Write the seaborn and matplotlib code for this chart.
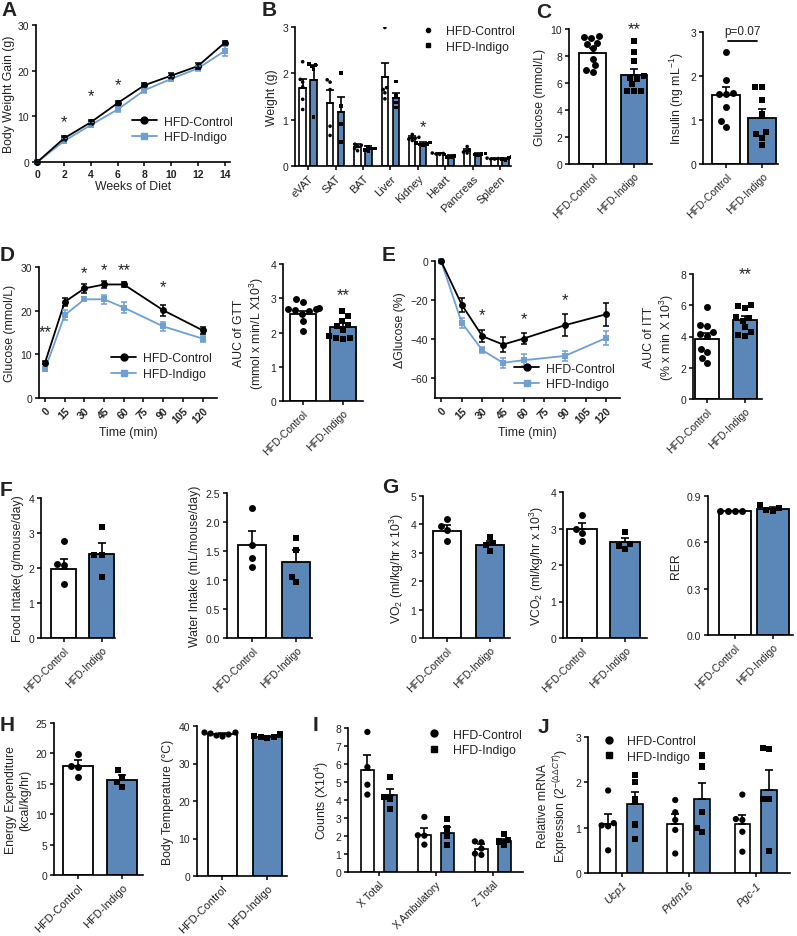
import numpy as np
import pandas as pd
import matplotlib
matplotlib.use("Agg")
import matplotlib.pyplot as plt
from matplotlib.lines import Line2D
import seaborn as sns
import warnings
warnings.filterwarnings("ignore")

CTRL, IND = "HFD-Control", "HFD-Indigo"
GROUPS = [CTRL, IND]

# ---------------- data ----------------
# A body weight gain
A_weeks = [0, 2, 4, 6, 8, 10, 12, 14]
A_ctrl = [0, 5.2, 8.7, 12.9, 16.8, 18.9, 21.0, 26.1]
A_ctrl_sem = [0.2, 0.4, 0.4, 0.4, 0.4, 0.6, 0.6, 0.5]
A_ind = [0, 4.6, 8.1, 11.5, 15.7, 18.2, 20.5, 24.3]
A_ind_sem = [0.2, 0.4, 0.4, 0.5, 0.5, 0.5, 0.5, 1.0]
A_star_x = [2, 4, 6]
A_star_y = [8.8, 14.6, 17.0]

# B organ weights
B_organs = ["eVAT", "SAT", "BAT", "Liver", "Kidney", "Heart", "Pancreas", "Spleen"]
B_ctrl_mean = [1.68, 1.35, 0.41, 1.93, 0.60, 0.27, 0.32, 0.16]
B_ctrl_sem = [0.20, 0.30, 0.06, 0.30, 0.05, 0.02, 0.04, 0.01]
B_ind_mean = [1.86, 1.17, 0.37, 1.47, 0.48, 0.21, 0.25, 0.15]
B_ind_sem = [0.33, 0.33, 0.06, 0.11, 0.04, 0.03, 0.02, 0.02]
B_ctrl_pts = [[2.25, 1.87, 1.81, 1.71, 1.44, 1.22], [1.86, 1.81, 1.65, 0.86, 0.66],
              [0.45, 0.47, 0.42, 0.33, 0.38], [2.99, 1.69, 1.58, 1.45, 1.65],
              [0.68, 0.62, 0.58, 0.55, 0.60], [0.26, 0.28, 0.25, 0.27],
              [0.42, 0.35, 0.30, 0.28], [0.16, 0.15, 0.17, 0.15]]
B_ind_pts = [[2.20, 2.15, 2.18, 2.08, 1.06], [2.01, 1.29, 0.90, 0.52],
             [0.41, 0.38, 0.35, 0.33, 0.38], [1.82, 1.51, 1.37, 1.26],
             [0.50, 0.47, 0.46, 0.45, 0.51], [0.25, 0.22, 0.18, 0.20],
             [0.27, 0.25, 0.23, 0.26], [0.19, 0.15, 0.12, 0.17]]
B_star_y = 0.85

# C fasting glucose / insulin
C_glu_mean = [8.2, 6.6]
C_glu_sem = [0.37, 0.44]
C_glu_ctrl = [9.5, 9.4, 9.3, 9.0, 8.9, 8.6, 7.8, 7.3, 7.0, 6.8]
C_glu_ind = [9.1, 8.3, 7.6, 6.5, 6.4, 6.3, 5.9, 5.4, 5.4, 5.4]
C_ins_mean = [1.57, 1.05]
C_ins_sem = [0.19, 0.20]
C_ins_ctrl = [2.54, 1.90, 1.62, 1.60, 1.58, 1.30, 0.97, 0.85]
C_ins_ind = [1.74, 1.74, 1.46, 1.13, 0.73, 0.68, 0.60, 0.44]

# D GTT
D_time = [0, 15, 30, 45, 60, 90, 120]
D_ctrl = [8.1, 22.0, 25.1, 26.0, 26.0, 20.1, 15.5]
D_ctrl_sem = [0.3, 1.0, 1.0, 0.8, 0.6, 1.3, 0.8]
D_ind = [6.6, 19.0, 22.6, 22.6, 20.7, 16.4, 13.6]
D_ind_sem = [0.3, 1.2, 0.4, 1.0, 1.3, 1.0, 0.8]
D_star_x = [0, 30, 45, 60, 90]
D_star_y = [15.3, 28.6, 29.5, 29.3, 25.6]
D_star_txt = ["**", "*", "*", "**", "*"]
D_auc_mean = [2.55, 2.17]
D_auc_sem = [0.09, 0.10]
D_auc_ctrl = [2.97, 2.90, 2.72, 2.70, 2.68, 2.65, 2.62, 2.55, 2.35, 2.03]
D_auc_ind = [2.63, 2.49, 2.35, 2.22, 2.20, 2.07, 1.90, 1.85, 1.83, 1.80]

# E ITT
E_time = [0, 15, 30, 45, 60, 90, 120]
E_ctrl = [0, -22.3, -38.4, -42.7, -39.6, -32.8, -27.2]
E_ctrl_sem = [0, 3.6, 3.0, 4.0, 3.0, 5.5, 5.8]
E_ind = [0, -31.5, -45.6, -52.0, -50.7, -48.5, -39.3]
E_ind_sem = [0, 2.5, 1.5, 2.5, 3.0, 2.5, 3.5]
E_star_x = [30, 60, 90]
E_star_y = [-27.5, -29.2, -19.7]
E_auc_mean = [3.84, 5.07]
E_auc_sem = [0.40, 0.26]
E_auc_ctrl = [5.86, 4.73, 4.65, 4.26, 4.16, 4.05, 3.20, 2.98, 2.60, 2.30]
E_auc_ind = [6.00, 5.97, 5.80, 5.22, 5.16, 5.00, 4.58, 4.26, 4.10, 4.05]

# F intake
F_food_mean = [1.98, 2.41]
F_food_sem = [0.28, 0.31]
F_food_ctrl = [2.76, 2.12, 2.09, 1.55]
F_food_ind = [3.17, 2.38, 2.36, 1.74]
F_water_mean = [1.60, 1.31]
F_water_sem = [0.24, 0.20]
F_water_ctrl = [2.24, 1.60, 1.38, 1.22]
F_water_ind = [1.72, 1.51, 1.06, 0.96]

# G metabolic cages
G_vo2_mean = [3.77, 3.27]
G_vo2_sem = [0.21, 0.15]
G_vo2_ctrl = [4.20, 3.95, 3.80, 3.40]
G_vo2_ind = [3.57, 3.34, 3.27, 3.07]
G_vco2_mean = [3.00, 2.62]
G_vco2_sem = [0.14, 0.13]
G_vco2_ctrl = [3.36, 3.00, 2.89, 2.66]
G_vco2_ind = [2.90, 2.57, 2.52, 2.43]
G_rer_mean = [0.803, 0.818]
G_rer_sem = [0.003, 0.010]
G_rer_ctrl = [0.80, 0.80, 0.80, 0.80]
G_rer_ind = [0.84, 0.82, 0.81, 0.80]

# H energy / temperature
H_ee_mean = [17.9, 15.6]
H_ee_sem = [1.0, 0.8]
H_ee_ctrl = [19.9, 18.0, 17.7, 16.2]
H_ee_ind = [17.2, 16.2, 15.3, 14.5]
H_bt_mean = [37.9, 37.2]
H_bt_sem = [0.2, 0.15]
H_bt_ctrl = [38.5, 38.3, 38.1, 37.8, 37.5, 37.3]
H_bt_ind = [37.8, 37.3, 37.2, 37.0, 36.9]

# I activity
I_cats = ["X Total", "X Ambulatory", "Z Total"]
I_ctrl_mean = [5.69, 2.07, 1.26]
I_ctrl_sem = [0.79, 0.39, 0.28]
I_ind_mean = [4.26, 2.19, 1.70]
I_ind_sem = [0.37, 0.31, 0.12]
I_ctrl_pts = [[7.78, 5.83, 4.85, 4.30], [3.06, 2.04, 2.02, 1.52], [1.70, 1.65, 1.30, 1.02, 0.95]]
I_ind_pts = [[5.26, 4.17, 4.07, 3.52], [2.96, 2.41, 2.00, 1.48], [2.10, 1.76, 1.70, 1.48]]

# J gene expression
J_genes = ["Ucp1", "Prdm16", "Pgc-1"]
J_ctrl_mean = [1.08, 1.08, 1.08]
J_ctrl_sem = [0.22, 0.22, 0.21]
J_ind_mean = [1.52, 1.63, 1.84]
J_ind_sem = [0.27, 0.35, 0.43]
J_ctrl_pts = [[1.82, 1.10, 1.05, 1.03, 0.50], [1.61, 1.34, 1.17, 0.95, 0.43], [1.73, 1.19, 1.17, 0.91, 0.47]]
J_ind_pts = [[2.16, 2.00, 1.62, 1.07, 0.75], [2.59, 2.35, 1.34, 1.00, 0.91], [2.76, 2.73, 1.64, 1.64, 0.49]]

# ---------------- style ----------------
BLUE = "#4B86C6"
LBLUE = "#6E9FD5"
BAR_PAL = {CTRL: "white", IND: BLUE}
LINE_PAL = {CTRL: "black", IND: LBLUE}
PT_PAL = {CTRL: "black", IND: "black"}

sns.set_theme(style="ticks")
plt.rcParams["font.family"] = ["Liberation Sans", "DejaVu Sans"]
plt.rcParams.update({
    "axes.linewidth": 1.2,
    "axes.edgecolor": "black",
    "xtick.major.width": 1.1,
    "ytick.major.width": 1.1,
    "xtick.major.size": 3,
    "ytick.major.size": 3,
    "xtick.major.pad": 2,
    "ytick.major.pad": 2,
    "xtick.labelsize": 7.5,
    "ytick.labelsize": 7.5,
    "axes.labelsize": 8.8,
    "axes.labelpad": 3,
    "text.color": "#222222",
    "axes.labelcolor": "#222222",
    "xtick.color": "black",
    "ytick.color": "black",
    "xtick.labelcolor": "#222222",
    "ytick.labelcolor": "#222222",
    "mathtext.fontset": "custom",
    "mathtext.rm": "Liberation Sans",
    "mathtext.it": "Liberation Sans:italic",
    "mathtext.bf": "Liberation Sans:bold",
})

W, H = 797, 937
fig = plt.figure(figsize=(W / 100, H / 100), dpi=100)


def box(x0, y0, x1, y1):
    return fig.add_axes([x0 / W, 1 - y1 / H, (x1 - x0) / W, (y1 - y0) / H])


def finish(ax, ylim, yticks, ylabel, xlim=None):
    sns.despine(ax=ax)
    ax.set_ylim(*ylim)
    ax.set_yticks(yticks)
    ax.set_ylabel(ylabel)
    if xlim is not None:
        ax.set_xlim(*xlim)


def rot_labels(ax, fs=7.5, italic=False):
    for t in ax.get_xticklabels():
        t.set_rotation(45)
        t.set_ha("right")
        t.set_rotation_mode("anchor")
        t.set_fontsize(fs)
        if italic:
            t.set_style("italic")


def add_errbars(ax, sems):
    for p, s in zip(ax.patches, sems):
        xc = p.get_x() + p.get_width() / 2
        top = p.get_y() + p.get_height()
        ax.errorbar([xc], [top], yerr=[[0], [s]], fmt="none", ecolor="black",
                    elinewidth=1.2, capsize=3, capthick=1.2, zorder=3)


def pair_panel(ax, means, sems, ctrl_pts, ind_pts, width=0.65, size=5,
               ylim=None, yticks=None, ylabel="", xlim=(-0.6, 1.45), fs=7.5):
    df = pd.DataFrame({"group": GROUPS, "value": means})
    sns.barplot(data=df, x="group", y="value", hue="group", order=GROUPS,
                hue_order=GROUPS, palette=BAR_PAL, edgecolor="black",
                linewidth=1.3, width=width, errorbar=None, legend=False, ax=ax)
    add_errbars(ax, sems)
    for g, pts, mk in ((CTRL, ctrl_pts, "o"), (IND, ind_pts, "s")):
        pdf = pd.DataFrame({"group": [g] * len(pts), "value": pts})
        sns.swarmplot(data=pdf, x="group", y="value", order=GROUPS, color="black",
                      marker=mk, size=size, linewidth=0, ax=ax, zorder=4)
    finish(ax, ylim, yticks, ylabel, xlim)
    ax.set_xlabel("")
    rot_labels(ax, fs)


def grouped_panel(ax, cats, cm, cs, im, isem, cpts, ipts, size=4.5,
                  ylim=None, yticks=None, ylabel="", xlim=None, fs=7.5, italic=False):
    df = pd.DataFrame({"cat": cats * 2, "group": [CTRL] * len(cats) + [IND] * len(cats),
                       "value": cm + im})
    sns.barplot(data=df, x="cat", y="value", hue="group", order=cats,
                hue_order=GROUPS, palette=BAR_PAL, edgecolor="black",
                linewidth=1.2, width=0.8, gap=0.42, errorbar=None, legend=False, ax=ax)
    add_errbars(ax, cs + isem)
    for g, pts_list, mk in ((CTRL, cpts, "o"), (IND, ipts, "s")):
        rows = [(c, g, v) for c, pts in zip(cats, pts_list) for v in pts]
        pdf = pd.DataFrame(rows, columns=["cat", "group", "value"])
        sns.swarmplot(data=pdf, x="cat", y="value", hue="group", order=cats,
                      hue_order=GROUPS, dodge=True, palette=PT_PAL, marker=mk,
                      size=size, linewidth=0, legend=False, ax=ax, zorder=4)
    finish(ax, ylim, yticks, ylabel, xlim)
    ax.set_xlabel("")
    rot_labels(ax, fs, italic)


def line_panel(ax, x, ctrl, csem, ind, isem, ms=5):
    n = len(x)
    df = pd.DataFrame({"x": list(x) * 2, "y": list(ctrl) + list(ind),
                       "group": [CTRL] * n + [IND] * n})
    sns.lineplot(data=df, x="x", y="y", hue="group", style="group",
                 hue_order=[IND, CTRL], style_order=[IND, CTRL], palette=LINE_PAL,
                 markers={CTRL: "o", IND: "s"}, dashes=False, markersize=ms,
                 markeredgewidth=0, linewidth=1.3, legend=False, errorbar=None, ax=ax)
    for g, y, e in ((IND, ind, isem), (CTRL, ctrl, csem)):
        ax.errorbar(x, y, yerr=e, fmt="none", ecolor=LINE_PAL[g], elinewidth=1.1,
                    capsize=2.5, capthick=1.1)
    for ln in ax.lines:
        ln.set_clip_on(False)
    sns.despine(ax=ax)


def line_legend(ax, loc, bbox, fs=8.8):
    hs = [Line2D([], [], color="black", marker="o", markersize=5, lw=1.3),
          Line2D([], [], color=LBLUE, marker="s", markersize=4.5, lw=1.3)]
    ax.legend(hs, GROUPS, loc=loc, bbox_to_anchor=bbox, frameon=False, fontsize=fs,
              handlelength=2.0, handletextpad=0.6, labelspacing=0.3, borderaxespad=0)


def marker_legend(ax, loc, bbox, ms=4, fs=8.8):
    hs = [Line2D([], [], color="black", marker="o", markersize=ms, lw=0),
          Line2D([], [], color="black", marker="s", markersize=ms * 0.85, lw=0)]
    ax.legend(hs, GROUPS, loc=loc, bbox_to_anchor=bbox, frameon=False, fontsize=fs,
              handlelength=1.0, handletextpad=1.0, labelspacing=0.3, borderaxespad=0)


def star(ax, x, y, s, fs=12):
    ax.text(x, y, s, ha="center", va="center", fontsize=fs, color="#222222", clip_on=False)


def letter(x, y, s):
    fig.text(x / W, 1 - y / H, s, fontsize=15, fontweight="bold", ha="left", va="top")


# ---------------- A ----------------
ax = box(36, 26, 230, 163)
line_panel(ax, A_weeks, A_ctrl, A_ctrl_sem, A_ind, A_ind_sem)
ax.set_xlim(-0.1, 14.4)
ax.set_ylim(0, 30)
ax.set_xticks(A_weeks)
ax.set_yticks([0, 10, 20, 30])
for t in ax.get_xticklabels():
    t.set_fontweight("bold")
ax.set_xlabel("Weeks of Diet", labelpad=1)
ax.set_ylabel("Body Weight Gain (g)", labelpad=2)
for xs, ys in zip(A_star_x, A_star_y):
    star(ax, xs, ys, "*")
line_legend(ax, "lower right", (1.04, 0.1))

# ---------------- B ----------------
ax = box(295, 28, 511, 167)
grouped_panel(ax, B_organs, B_ctrl_mean, B_ctrl_sem, B_ind_mean, B_ind_sem,
              B_ctrl_pts, B_ind_pts, size=2.6, ylim=(0, 3), yticks=[0, 1, 2, 3],
              ylabel="Weight (g)", xlim=(-0.48, 7.4), fs=8)
star(ax, 4.2, B_star_y, "*")
marker_legend(ax, "upper right", (1.04, 1.05), ms=3)

# ---------------- C ----------------
ax = box(569, 30, 652, 165)
pair_panel(ax, C_glu_mean, C_glu_sem, C_glu_ctrl, C_glu_ind, width=0.65, size=5,
           ylim=(0, 10), yticks=[0, 2, 4, 6, 8, 10], ylabel="Glucose (mmol/L)",
           xlim=(-0.58, 1.44))
star(ax, 1, 10.0, "**")

ax = box(703, 33, 778, 165)
pair_panel(ax, C_ins_mean, C_ins_sem, C_ins_ctrl, C_ins_ind, width=0.78, size=5,
           ylim=(0, 3), yticks=[0, 1, 2, 3], ylabel="Insulin (ng mL$^{-1}$)",
           xlim=(-0.64, 1.44))
ax.plot([0.05, 0.85], [2.79, 2.79], color="black", lw=1.3, clip_on=False)
ax.text(0.45, 2.88, "p=0.07", ha="center", va="bottom", fontsize=8.5, color="#222222")

# ---------------- D ----------------
ax = box(39, 268, 217, 399)
line_panel(ax, D_time, D_ctrl, D_ctrl_sem, D_ind, D_ind_sem)
ax.set_xlim(-4.6, 131)
ax.set_ylim(0, 30)
ax.set_xticks(list(range(0, 121, 15)))
ax.set_yticks([0, 10, 20, 30])
for t in ax.get_xticklabels():
    t.set_fontweight("bold")
    t.set_rotation(45)
    t.set_ha("right")
    t.set_rotation_mode("anchor")
ax.set_xlabel("Time (min)", labelpad=1)
ax.set_ylabel("Glucose (mmol/L)")
for xs, ys, s in zip(D_star_x, D_star_y, D_star_txt):
    star(ax, xs, ys, s)
line_legend(ax, "lower right", (1.0, 0.1))

ax = box(283, 265, 363, 402)
pair_panel(ax, D_auc_mean, D_auc_sem, D_auc_ctrl, D_auc_ind, width=0.67, size=5,
           ylim=(0, 4), yticks=[0, 1, 2, 3, 4],
           ylabel="AUC of GTT\n(mmol x min/L X10$^3$)", xlim=(-0.5, 1.5))
star(ax, 1, 3.1, "**")

# ---------------- E ----------------
ax = box(435, 262, 620, 399)
line_panel(ax, E_time, E_ctrl, E_ctrl_sem, E_ind, E_ind_sem)
ax.set_xlim(-4.4, 130)
ax.set_ylim(-70, 0)
ax.set_xticks(list(range(0, 121, 15)))
ax.set_yticks([0, -20, -40, -60])
for t in ax.get_xticklabels():
    t.set_fontweight("bold")
    t.set_rotation(45)
    t.set_ha("right")
    t.set_rotation_mode("anchor")
ax.set_xlabel("Time (min)", labelpad=1)
ax.set_ylabel("\u0394Glucose (%)")
for xs, ys in zip(E_star_x, E_star_y):
    star(ax, xs, ys, "*")
line_legend(ax, "lower right", (1.0, 0.02))

ax = box(693, 275, 762, 400)
pair_panel(ax, E_auc_mean, E_auc_sem, E_auc_ctrl, E_auc_ind, width=0.65, size=5,
           ylim=(0, 8), yticks=[0, 2, 4, 6, 8],
           ylabel="AUC of ITT\n(% x min X 10$^3$)", xlim=(-0.37, 1.45))
star(ax, 1, 8.0, "**")

# ---------------- F ----------------
ax = box(41, 499, 115, 639)
pair_panel(ax, F_food_mean, F_food_sem, F_food_ctrl, F_food_ind, width=0.67, size=5,
           ylim=(0, 4), yticks=[0, 1, 2, 3, 4], ylabel="Food Intake( g/mouse/day)",
           xlim=(-0.6, 1.35))
ax = box(227, 494, 312, 639)
pair_panel(ax, F_water_mean, F_water_sem, F_water_ctrl, F_water_ind, width=0.64, size=5,
           ylim=(0, 2.5), yticks=[0, 0.5, 1.0, 1.5, 2.0, 2.5],
           ylabel="Water Intake (mL/mouse/day)", xlim=(-0.57, 1.36))
ax.yaxis.set_major_formatter(matplotlib.ticker.FormatStrFormatter("%.1f"))

# ---------------- G ----------------
ax = box(423, 497, 510, 639)
pair_panel(ax, G_vo2_mean, G_vo2_sem, G_vo2_ctrl, G_vo2_ind, width=0.65, size=5,
           ylim=(0, 5), yticks=[0, 1, 2, 3, 4, 5],
           ylabel="VO$_2$ (ml/kg/hr x 10$^3$)", xlim=(-0.56, 1.47))
ax = box(563, 493, 647, 639)
pair_panel(ax, G_vco2_mean, G_vco2_sem, G_vco2_ctrl, G_vco2_ind, width=0.68, size=5,
           ylim=(0, 4), yticks=[0, 1, 2, 3, 4],
           ylabel="VCO$_2$ (ml/kg/hr x 10$^3$)", xlim=(-0.44, 1.51))
ax = box(708, 497, 793, 636)
pair_panel(ax, G_rer_mean, G_rer_sem, G_rer_ctrl, G_rer_ind, width=0.85, size=5,
           ylim=(0, 0.9), yticks=[0, 0.3, 0.6, 0.9], ylabel="RER", xlim=(-0.71, 1.53))
ax.yaxis.set_major_formatter(matplotlib.ticker.FormatStrFormatter("%.1f"))

# ---------------- H ----------------
ax = box(54, 724, 143, 876)
pair_panel(ax, H_ee_mean, H_ee_sem, H_ee_ctrl, H_ee_ind, width=0.67, size=5,
           ylim=(0, 25), yticks=[0, 5, 10, 15, 20, 25],
           ylabel="Energy Expenditure\n(kcal/kg/hr)", xlim=(-0.55, 1.48), fs=8)
ax = box(197, 727, 287, 877)
pair_panel(ax, H_bt_mean, H_bt_sem, H_bt_ctrl, H_bt_ind, width=0.65, size=4.5,
           ylim=(0, 40), yticks=[0, 10, 20, 30, 40],
           ylabel="Body Temperature (\u00b0C)", xlim=(-0.56, 1.44), fs=8)

# ---------------- I ----------------
ax = box(348, 729, 523, 873)
grouped_panel(ax, I_cats, I_ctrl_mean, I_ctrl_sem, I_ind_mean, I_ind_sem,
              I_ctrl_pts, I_ind_pts, size=4.5, ylim=(0, 8), yticks=list(range(0, 9)),
              ylabel="Counts (X10$^4$)", xlim=(-0.54, 2.53), fs=7.5)
marker_legend(ax, "upper right", (1.02, 1.03), ms=5)

# ---------------- J ----------------
ax = box(588, 738, 790, 874)
grouped_panel(ax, J_genes, J_ctrl_mean, J_ctrl_sem, J_ind_mean, J_ind_sem,
              J_ctrl_pts, J_ind_pts, size=4.5, ylim=(0, 3), yticks=[0, 1, 2, 3],
              ylabel="Relative mRNA\nExpression (2$^{-(\\Delta\\Delta CT)}$)",
              xlim=(-0.5, 2.51), fs=8, italic=True)
marker_legend(ax, "upper left", (0.05, 1.05), ms=5)

# ---------------- panel letters ----------------
letter(1, 1, "A")
letter(262, 1, "B")
letter(536, 3, "C")
letter(0, 246, "D")
letter(382, 246, "E")
letter(0, 481, "F")
letter(382, 478, "G")
letter(0, 716, "H")
letter(313, 716, "I")
letter(538, 718, "J")

fig.savefig("out.png", dpi=100)
